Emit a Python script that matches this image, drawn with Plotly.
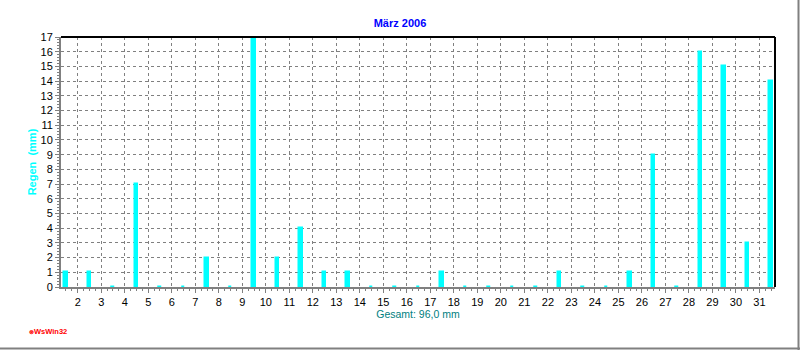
import plotly.graph_objects as go

days = list(range(1, 32))
rain_mm = [1, 1, 0, 7, 0, 0, 2, 0, 17, 2, 4, 1, 1, 0, 0, 0, 1, 0, 0, 0,
           0, 1, 0, 0, 1, 9, 0, 16, 15, 3, 14]
tick_days = list(range(2, 32))
tick_labels = [str(d) for d in tick_days]
y_ticks = list(range(0, 18))
title_text = "März 2006"
y_title = "Regen  (mm)"
x_title = "Gesamt: 96,0 mm"
credit = "WsWin32"

GREY = "#808080"
CYAN = "#00FFFF"
FONT = "Liberation Sans, Arial, sans-serif"

fig = go.Figure()
fig.add_trace(go.Bar(
    x=days, y=rain_mm,
    width=0.15, offset=0.425,
    marker=dict(color=CYAN, line=dict(color=CYAN, width=1.5)),
    showlegend=False,
))

fig.update_layout(
    width=800, height=350,
    margin=dict(l=61, r=25, t=37, b=63),
    paper_bgcolor="white", plot_bgcolor="white",
    font=dict(family=FONT, size=11, color="black"),
    title=dict(text=title_text, x=0.5, xanchor="center", y=1 - 23 / 350, yanchor="middle",
               font=dict(family=FONT, size=11, color="#0000FF", weight="bold")),
    bargap=0,
)

fig.update_xaxes(
    range=[1.29, 31.66], tickmode="array", tickvals=tick_days, ticktext=tick_labels,
    showgrid=True, gridcolor=GREY, griddash="3px,3px", gridwidth=1,
    showline=True, linecolor=GREY, linewidth=2,
    ticks="outside", ticklen=4, tickcolor=GREY, tickwidth=1,
    minor=dict(dtick=0.25, tick0=0, ticks="outside", ticklen=2, tickcolor=GREY, showgrid=False),
    tickfont=dict(size=11, color="black"),
    title=dict(text=x_title, font=dict(size=10.5, color="#008080"), standoff=3),
    zeroline=False, layer="below traces", fixedrange=True,
)
fig.update_yaxes(
    range=[0, 17], tickmode="array", tickvals=y_ticks,
    showgrid=True, gridcolor=GREY, griddash="3px,3px", gridwidth=1,
    showline=True, linecolor=GREY, linewidth=2,
    ticks="outside", ticklen=4, tickcolor=GREY, tickwidth=1,
    minor=dict(dtick=0.2, tick0=0, ticks="outside", ticklen=2, tickcolor=GREY, showgrid=False),
    tickfont=dict(size=11, color="black"),
    title=dict(text=y_title, font=dict(size=11, color=CYAN, weight="bold"), standoff=2),
    zeroline=False, layer="below traces", fixedrange=True,
)

# plot frame: black top and right edges
fig.add_shape(type="line", xref="x domain", yref="y domain", x0=0, x1=1, y0=1, y1=1,
              line=dict(color="black", width=2))
fig.add_shape(type="line", xref="x domain", yref="y domain", x0=1, x1=1, y0=0, y1=1,
              line=dict(color="black", width=2))
# window frame: grey right and bottom edges
fig.add_shape(type="line", xref="paper", yref="paper",
              x0=(798.5 - 61) / 714, x1=(798.5 - 61) / 714, y0=(287 - 350) / 250, y1=(287 + 0) / 250,
              line=dict(color=GREY, width=2))
fig.add_shape(type="line", xref="paper", yref="paper",
              x0=-61 / 714, x1=(800 - 61) / 714, y0=(287 - 348.5) / 250, y1=(287 - 348.5) / 250,
              line=dict(color=GREY, width=2))

fig.add_annotation(text="<b><span style='font-size:6px'>⊗</span>" + credit + "</b>",
                   xref="paper", yref="paper",
                   x=(27 - 61) / 714, y=(287 - 331.5) / 250, xanchor="left", yanchor="middle",
                   showarrow=False, font=dict(family=FONT, size=7.5, color="#FF0000"))

fig.write_html("out.html")
